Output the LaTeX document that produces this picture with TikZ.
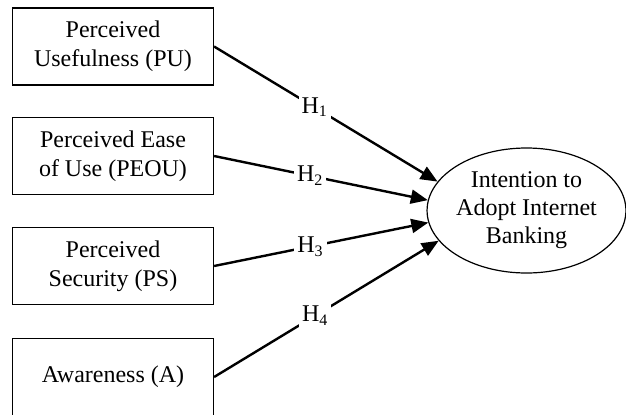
\documentclass[tikz,border=0pt]{standalone}
\usepackage{fontspec}
\setmainfont{Liberation Serif}
\usetikzlibrary{shapes.geometric,arrows.meta}

\begin{document}
\begin{tikzpicture}
  [x=0.5pt,y=-0.5pt,
   every node/.style={font=\fontsize{12}{14.5}\selectfont,align=center},
   factor/.style={draw,line width=0.6pt,minimum width=100.5pt,minimum height=38.5pt,inner sep=0pt},
   intent/.style={draw,ellipse,line width=0.6pt,minimum width=98.5pt,minimum height=62.5pt,inner sep=0pt,font=\fontsize{12}{14}\selectfont},
   path/.style={line width=1.2pt,-{Triangle[length=8.5pt,width=7pt]}},
   hyp/.style={fill=white,inner sep=1.5pt,pos=0.45}]
  \useasboundingbox (0,0) rectangle (626,414);
  \node[factor] (pu) at (113,46.5) {Perceived\\Usefulness (PU)};
  \node[factor] (peou) at (113,156) {Perceived Ease\\of Use (PEOU)};
  \node[factor] (ps) at (113,266) {Perceived\\Security (PS)};
  \node[factor] (aw) at (113,377) {Awareness (A)};
  \node[intent] (ia) at (526.5,210.5) {Intention to\\Adopt Internet\\Banking};
  \foreach \from/\ang/\num in {pu/162.5/1,peou/174/2,ps/187/3,aw/199/4}
    \draw[path] (\from.east) -- node[hyp] {H\textsubscript{\num}} (ia.\ang);
\end{tikzpicture}
\end{document}
